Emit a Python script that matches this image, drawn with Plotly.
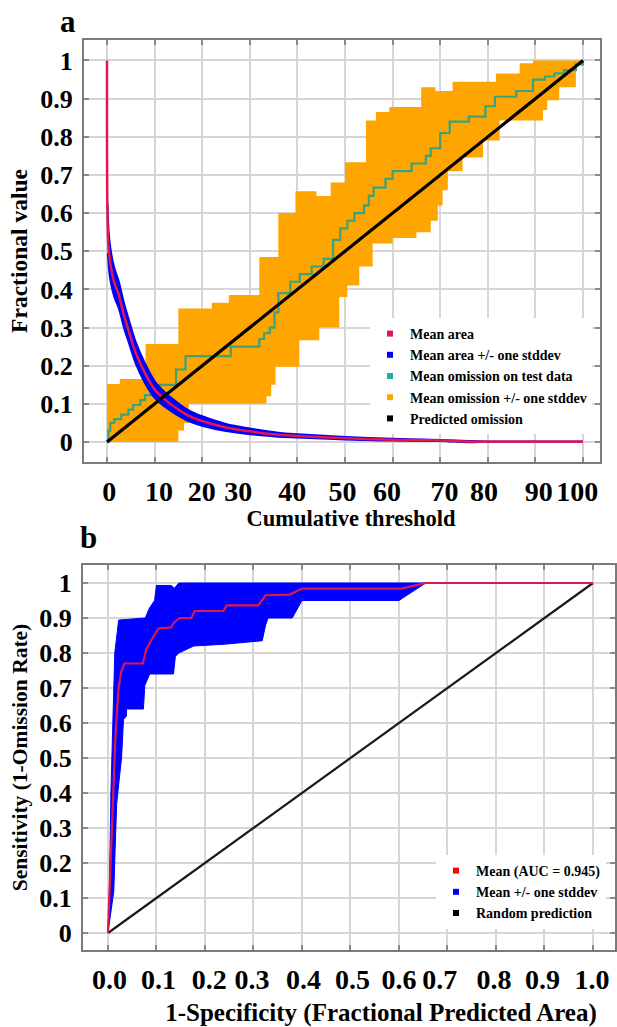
import plotly.graph_objects as go

W, H = 617, 1027
FONT = "Liberation Serif"

# ---------------- Panel a data ----------------
# Mean area (fraction of area predicted) vs cumulative threshold
area_x = [0, 0.15, 0.4, 0.8, 1.5, 2.5, 3.5, 4.6, 6, 8, 10, 12, 14, 17, 20, 25, 30, 36, 40, 50, 60, 70, 76, 80, 90, 100]
area_mean = [1.0, 0.56, 0.5, 0.46, 0.42, 0.385, 0.335, 0.29, 0.235, 0.18, 0.138, 0.113, 0.094, 0.07,
             0.055, 0.038, 0.028, 0.019, 0.016, 0.01, 0.006, 0.004, 0.001, 0.001, 0.001, 0.001]
area_sd = [0.0, 0.065, 0.05, 0.045, 0.04, 0.037, 0.035, 0.032, 0.03, 0.027, 0.023, 0.02, 0.018, 0.015,
           0.013, 0.01, 0.008, 0.006, 0.005, 0.004, 0.003, 0.002, 0.002, 0.001, 0.001, 0.001]

# Mean omission on test data (step function)
omis_x = [0, 0.3, 0.7, 1.5, 3.0, 4.5, 5.5, 7.0, 8.0, 9.5, 11.0, 14.5, 16.5, 26.0, 32.0, 33.0, 34.2, 35.2,
          36.0, 38.5, 40.5, 43.0, 45.5, 47.5, 49.0, 50.5, 52.0, 54.0, 55.0, 56.0, 58.5, 60.0, 64.0, 67.0,
          68.0, 70.0, 72.0, 76.0, 79.5, 81.5, 86.0, 89.5, 92.0, 94.0, 96.0, 98.5, 100]
omis_y = [0, 0.03, 0.05, 0.06, 0.072, 0.085, 0.097, 0.11, 0.123, 0.14, 0.15, 0.19, 0.225, 0.25, 0.27, 0.285,
          0.3, 0.34, 0.39, 0.42, 0.44, 0.46, 0.48, 0.53, 0.56, 0.58, 0.6, 0.62, 0.645, 0.667, 0.69, 0.71,
          0.73, 0.75, 0.77, 0.81, 0.84, 0.853, 0.88, 0.905, 0.92, 0.95, 0.958, 0.966, 0.975, 0.99, 1.0]

# Mean omission +/- one stddev (step bounds)
omis_hi_x = [0, 2.7, 8.1, 15, 22, 25.6, 32, 36, 39.6, 44, 47, 50, 54.4, 56.5, 59.3, 66, 69, 72.6, 81.7,
             86.7, 89.5, 100]
omis_hi_y = [0.152, 0.165, 0.257, 0.35, 0.365, 0.385, 0.485, 0.6, 0.657, 0.645, 0.68, 0.733, 0.843, 0.865,
             0.878, 0.93, 0.92, 0.944, 0.966, 0.993, 1.0, 1.0]
omis_lo_x = [0, 15, 16.2, 17.2, 33.5, 34.5, 35.4, 40.4, 44.6, 48.8, 50.5, 53, 55.8, 60, 65, 68, 69.5, 70.5,
             71.6, 74.7, 79, 82.5, 91.6, 92.5, 95, 98.5, 100]
omis_lo_y = [0, 0.03, 0.05, 0.1, 0.12, 0.15, 0.197, 0.267, 0.3, 0.38, 0.41, 0.46, 0.52, 0.535, 0.55, 0.58,
             0.62, 0.66, 0.71, 0.746, 0.79, 0.843, 0.87, 0.896, 0.93, 0.99, 1.0]

# Predicted omission
pred_x = [0, 100]
pred_y = [0, 1]

thr_grid = [0, 10, 20, 30, 40, 50, 60, 70, 80, 90, 100]
thr_labels = ["0", "10", "20", "30", "40", "50", "60", "70", "80", "90", "100"]
thr_label_pos = [0.5, 10.9, 19.9, 27.6, 38.9, 49.5, 58.8, 70.9, 79.2, 90.7, 98.8]

# ---------------- Panel b data ----------------
roc_x = [0, 0.005, 0.008, 0.011, 0.015, 0.018, 0.022, 0.027, 0.034, 0.072, 0.079, 0.09, 0.1, 0.104, 0.13,
         0.137, 0.148, 0.172, 0.179, 0.238, 0.245, 0.31, 0.325, 0.375, 0.4, 0.605, 0.655, 1.0]
roc_y = [0, 0.2, 0.3, 0.42, 0.55, 0.62, 0.7, 0.745, 0.77, 0.77, 0.81, 0.838, 0.86, 0.87, 0.873, 0.888, 0.9,
         0.9, 0.92, 0.92, 0.936, 0.936, 0.965, 0.967, 0.984, 0.984, 1.0, 1.0]

roc_hi_x = [0, 0.003, 0.006, 0.01, 0.012, 0.014, 0.022, 0.077, 0.085, 0.096, 0.1, 0.13, 0.137, 0.146, 1.0]
roc_hi_y = [0, 0.12, 0.4, 0.6, 0.75, 0.8, 0.894, 0.9, 0.927, 0.95, 0.993, 0.993, 0.985, 1.0, 1.0]
roc_lo_x = [0, 0.012, 0.015, 0.018, 0.024, 0.028, 0.032, 0.038, 0.038, 0.073, 0.076, 0.086, 0.135, 0.139,
            0.146, 0.177, 0.24, 0.318, 0.325, 0.33, 0.38, 0.4, 0.6, 0.655, 1.0]
roc_lo_y = [0, 0.12, 0.25, 0.37, 0.45, 0.5, 0.61, 0.62, 0.64, 0.64, 0.707, 0.74, 0.74, 0.79, 0.8, 0.82, 0.825,
            0.835, 0.88, 0.9, 0.9, 0.95, 0.95, 1.0, 1.0]

rand_x = [0, 1]
rand_y = [0, 1]

fpa_grid = [0, 0.1, 0.2, 0.3, 0.4, 0.5, 0.6, 0.7, 0.8, 0.9, 1.0]
fpa_labels = ["0.0", "0.1", "0.2", "0.3", "0.4", "0.5", "0.6", "0.7", "0.8", "0.9", "1.0"]
fpa_label_pos = [0.003, 0.104, 0.209, 0.297, 0.403, 0.504, 0.6, 0.684, 0.796, 0.896, 0.998]

frac_ticks = [0, 0.1, 0.2, 0.3, 0.4, 0.5, 0.6, 0.7, 0.8, 0.9, 1]
frac_labels = ["0", "0.1", "0.2", "0.3", "0.4", "0.5", "0.6", "0.7", "0.8", "0.9", "1"]

legend_a = ["Mean area", "Mean area +/- one stddev", "Mean omission on test data",
            "Mean omission +/- one stddev", "Predicted omission"]
legend_b = ["Mean (AUC = 0.945)", "Mean +/- one stddev", "Random prediction"]

# ---------------- styles ----------------
RED = "#e3174d"
BLUE = "#0000ff"
TEAL = "#3aa37c"
ORANGE = "#ffa500"
BLACK = "#000000"
NONE = "rgba(0,0,0,0)"

fig = go.Figure()

# ---- panel a ----
fig.add_trace(go.Scatter(x=omis_lo_x, y=omis_lo_y, mode="lines", line=dict(width=0, color=NONE, shape="hv"),
                         showlegend=False, hoverinfo="skip", xaxis="x", yaxis="y"))
fig.add_trace(go.Scatter(x=omis_hi_x, y=omis_hi_y, mode="lines", line=dict(width=0, color=NONE, shape="hv"),
                         fill="tonexty", fillcolor=ORANGE, showlegend=False, xaxis="x", yaxis="y"))
fig.add_trace(go.Scatter(x=omis_x, y=omis_y, mode="lines", line=dict(width=2.2, color=TEAL, shape="hv"),
                         showlegend=False, xaxis="x", yaxis="y"))

band_x = area_x[1:]
band_lo = [m - s for m, s in zip(area_mean[1:], area_sd[1:])]
band_hi = [m + s for m, s in zip(area_mean[1:], area_sd[1:])]
fig.add_trace(go.Scatter(x=band_x, y=band_lo, mode="lines", line=dict(width=1.5, color=BLUE, shape="spline"),
                         showlegend=False, xaxis="x", yaxis="y"))
fig.add_trace(go.Scatter(x=band_x, y=band_hi, mode="lines", line=dict(width=1.5, color=BLUE, shape="spline"),
                         fill="tonexty", fillcolor=BLUE, showlegend=False, xaxis="x", yaxis="y"))
fig.add_trace(go.Scatter(x=area_x, y=area_mean, mode="lines", line=dict(width=2.5, color=RED, shape="spline"),
                         showlegend=False, xaxis="x", yaxis="y"))
fig.add_trace(go.Scatter(x=pred_x, y=pred_y, mode="lines", line=dict(width=3.2, color=BLACK),
                         showlegend=False, xaxis="x", yaxis="y"))

for name, col in zip(legend_a, [RED, BLUE, "#1fb0a3", ORANGE, BLACK]):
    fig.add_trace(go.Scatter(x=[None], y=[None], mode="markers", name=name,
                             marker=dict(symbol="square", size=6, color=col),
                             legend="legend", xaxis="x", yaxis="y"))

# ---- panel b ----
fig.add_trace(go.Scatter(x=roc_lo_x, y=roc_lo_y, mode="lines", line=dict(width=1, color=BLUE),
                         showlegend=False, xaxis="x2", yaxis="y2"))
fig.add_trace(go.Scatter(x=roc_hi_x, y=roc_hi_y, mode="lines", line=dict(width=1, color=BLUE),
                         fill="tonexty", fillcolor=BLUE, showlegend=False, xaxis="x2", yaxis="y2"))
fig.add_trace(go.Scatter(x=rand_x, y=rand_y, mode="lines", line=dict(width=2.2, color="#1a1a1a"),
                         showlegend=False, xaxis="x2", yaxis="y2"))
fig.add_trace(go.Scatter(x=roc_x, y=roc_y, mode="lines", line=dict(width=2.2, color="#e0174a"),
                         showlegend=False, xaxis="x2", yaxis="y2"))

for name, col in zip(legend_b, ["#ff0000", BLUE, BLACK]):
    fig.add_trace(go.Scatter(x=[None], y=[None], mode="markers", name=name,
                             marker=dict(symbol="square", size=6, color=col),
                             legend="legend2", xaxis="x2", yaxis="y2"))

# empty traces so the (invisible) title-carrying axes get drawn
fig.add_trace(go.Scatter(x=[None], y=[None], mode="markers", showlegend=False, hoverinfo="skip",
                         xaxis="x3", yaxis="y3"))
fig.add_trace(go.Scatter(x=[None], y=[None], mode="markers", showlegend=False, hoverinfo="skip",
                         xaxis="x4", yaxis="y4"))

# ---------------- layout ----------------
GRID = "#d6d6d6"
FRAME = "#7a7a7a"


def tickfont(sz):
    return dict(family=FONT, size=sz, color="black", weight="bold")


def xaxis(dom, rng, grid, lab_pos, labels):
    return dict(domain=dom, range=rng, tickmode="array", tickvals=lab_pos, ticktext=labels,
                ticks="", showgrid=False, zeroline=False, showline=True, linecolor=FRAME, linewidth=2,
                mirror="ticks", tickfont=tickfont(28), ticklabelstandoff=3,
                minor=dict(tickmode="array", tickvals=grid, showgrid=True, gridcolor=GRID, gridwidth=2,
                           ticks="inside", ticklen=5, tickcolor="#8a8a8a", tickwidth=1.5))


def title_axis(dom, anchor, title, tsize, standoff):
    # carries only the axis title (placed off-centre as in the original figure)
    return dict(domain=dom, anchor=anchor, showline=False, showgrid=False, zeroline=False, ticks="",
                showticklabels=False, range=[0, 1], fixedrange=True,
                title=dict(text=title, font=dict(family=FONT, size=tsize, color="black", weight="bold"),
                           standoff=standoff))


def blank_y(dom, anchor):
    return dict(domain=dom, anchor=anchor, range=[0, 1], visible=False, showgrid=False, zeroline=False,
                fixedrange=True)


def yaxis(dom, rng, anchor, title, tsize, standoff):
    return dict(domain=dom, range=rng, anchor=anchor, tickmode="array", tickvals=frac_ticks, ticktext=frac_labels,
                ticks="inside", ticklen=5, tickcolor="#8a8a8a", tickwidth=1.5,
                showgrid=True, gridcolor=GRID, gridwidth=2, zeroline=False,
                showline=True, linecolor=FRAME, linewidth=2, mirror="ticks",
                tickfont=tickfont(26), ticklabelstandoff=4,
                title=dict(text=title, font=dict(family=FONT, size=tsize, color="black", weight="bold"),
                           standoff=standoff))


LEGFONT = dict(family=FONT, size=14, color="black", weight="bold")
YDOM_A = [1 - 462 / H, 1 - 40 / H]
YDOM_B = [1 - 950 / H, 1 - 565 / H]

fig.update_layout(
    width=W, height=H, margin=dict(l=0, r=0, t=0, b=0),
    paper_bgcolor="white", plot_bgcolor="rgba(0,0,0,0)",
    xaxis=dict(anchor="y", **xaxis([84 / W, 600 / W], [-4.83, 103.57], thr_grid, thr_label_pos, thr_labels)),
    yaxis=yaxis(YDOM_A, [-0.0524, 1.0537], "x", "Fractional value", 23.5, 6),
    xaxis2=dict(anchor="y2", **xaxis([83 / W, 615 / W], [-0.0515, 1.0454], fpa_grid, fpa_label_pos, fpa_labels)),
    yaxis2=yaxis(YDOM_B, [-0.0486, 1.0514], "x2", "Sensitivity (1-Omission Rate)", 21.5, 6),
    xaxis3=title_axis([102 / W, 600 / W], "y3", "Cumulative threshold", 22.5, 48),
    yaxis3=blank_y(YDOM_A, "x3"),
    xaxis4=title_axis([147 / W, 615 / W], "y4", "1-Specificity (Fractional Predicted Area)", 25, 53),
    yaxis4=blank_y(YDOM_B, "x4"),
    legend=dict(x=370 / W, y=1 - 318 / H, xanchor="left", yanchor="top", bgcolor="white", borderwidth=0,
                font=LEGFONT, itemwidth=30, traceorder="normal"),
    legend2=dict(x=436 / W, y=1 - 855 / H, xanchor="left", yanchor="top", bgcolor="white", borderwidth=0,
                 font=LEGFONT, itemwidth=30, traceorder="normal"),
    annotations=[
        dict(text="a", x=68 / W, y=1 - 22 / H, xref="paper", yref="paper", showarrow=False,
             xanchor="center", yanchor="middle",
             font=dict(family=FONT, size=31, color="black", weight="bold")),
        dict(text="b", x=88 / W, y=1 - 537 / H, xref="paper", yref="paper", showarrow=False,
             xanchor="center", yanchor="middle",
             font=dict(family=FONT, size=31, color="black", weight="bold")),
    ],
)

fig.write_html("out.html", config={"displayModeBar": False},
               post_script="document.body.style.margin='0';")
